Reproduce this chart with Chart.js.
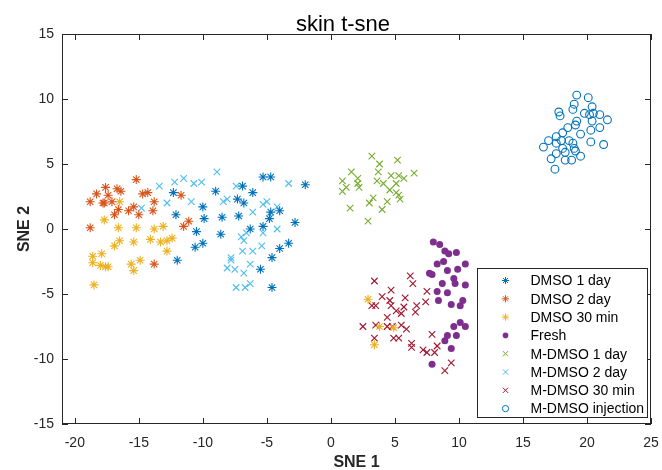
<!DOCTYPE html>
<html>
<head>
<meta charset="utf-8">
<script src="https://cdn.jsdelivr.net/npm/chart.js@4.4.1/dist/chart.umd.min.js"></script>
<style>
  html, body { margin: 0; padding: 0; background: #fff; }
  canvas { display: block; }
</style>
</head>
<body>
<canvas id="sne" width="662" height="470"></canvas>
<script>
// t-SNE embedding of skin samples, one array of [x, y] per condition
const dmso1Day = [
  [-12.3, 2.8], [-10.0, 1.7], [-12.1, 1.1], [-9.9, 0.8], [-10.5, -0.2], [-10.0, -1.1],
  [-10.6, -1.4], [-12.0, -2.4], [-5.3, 4.0], [-4.7, 4.0], [-2.0, 3.4], [-9.0, 2.9],
  [-6.9, 3.3], [-6.1, 2.8], [-7.3, 2.3], [-6.8, 2.0], [-8.5, 0.9], [-7.2, 1.0],
  [-4.7, 1.3], [-4.0, 1.4], [-4.8, 0.8], [-2.8, 0.5], [-6.3, 0.0], [-5.3, 0.2],
  [-8.6, -0.4], [-3.3, -1.1], [-4.0, -1.5], [-4.6, -2.2], [-5.5, -3.1], [-4.6, -4.5]
];
const dmso2Day = [
  [-15.2, 3.8], [-17.6, 3.2], [-16.7, 3.1], [-16.4, 2.9], [-18.3, 2.7], [-17.4, 2.6],
  [-14.7, 2.7], [-14.3, 2.8], [-18.8, 2.1], [-17.8, 2.0], [-17.7, 2.0], [-17.1, 2.1],
  [-13.8, 2.1], [-11.7, 2.6], [-15.4, 1.7], [-15.8, 1.4], [-16.6, 1.5], [-16.9, 1.1],
  [-15.0, 1.1], [-13.9, 1.4], [-11.1, 0.6], [-11.5, 0.2], [-18.8, 0.1], [-13.8, -2.7]
];
const dmso30Min = [
  [-16.5, 2.1], [-17.7, 0.7], [-16.6, 0.1], [-15.2, 0.1], [-13.8, 0.0], [-13.1, 0.2],
  [-16.5, -0.9], [-16.9, -1.3], [-15.4, -1.0], [-14.1, -0.8], [-13.3, -1.0], [-12.8, -0.9],
  [-12.4, -0.7], [-12.8, -1.7], [-17.9, -1.9], [-18.6, -2.1], [-18.6, -2.6], [-18.0, -2.8],
  [-17.6, -2.9], [-17.4, -2.9], [-14.9, -2.4], [-15.6, -2.7], [-15.4, -3.2], [-18.5, -4.3],
  [2.9, -5.4], [3.8, -7.5], [4.9, -7.6], [3.4, -8.9]
];
const fresh = [
  [8.0, -1.0], [8.5, -1.2], [8.9, -1.7], [9.2, -1.9], [9.8, -1.8], [8.8, -2.5],
  [8.3, -2.7], [10.5, -2.7], [7.7, -3.4], [7.9, -3.5], [9.1, -3.2], [9.9, -3.1],
  [9.6, -3.8], [8.7, -4.2], [9.7, -4.2], [10.5, -4.3], [8.3, -4.8], [9.1, -4.9],
  [10.3, -5.5], [8.4, -5.5], [9.4, -5.8], [10.1, -5.9], [10.1, -7.2], [10.5, -7.5],
  [9.6, -7.5], [9.1, -8.2], [9.8, -8.2], [8.9, -8.6], [9.4, -9.2], [7.9, -10.4]
];
const mDmso1Day = [
  [3.2, 5.6], [5.2, 5.3], [3.8, 5.0], [1.6, 4.4], [3.7, 4.4], [2.1, 3.9], [4.7, 4.1],
  [5.3, 4.1], [6.5, 4.3], [5.7, 3.9], [0.9, 3.7], [3.6, 3.7], [4.1, 3.5], [2.1, 3.5],
  [5.1, 3.5], [1.2, 3.2], [2.2, 3.2], [4.6, 3.0], [0.9, 2.9], [5.1, 2.8], [5.3, 2.6],
  [5.4, 2.3], [3.3, 2.4], [3.0, 2.0], [4.4, 2.1], [1.5, 1.6], [4.0, 1.5], [2.9, 0.6]
];
const mDmso2Day = [
  [-13.4, 3.3], [-12.2, 3.6], [-11.5, 3.9], [-10.7, 3.5], [-10.1, 3.6], [-12.8, 2.0],
  [-10.9, 2.1], [-14.8, 1.6], [-8.9, 4.4], [-3.3, 3.5], [-7.4, 3.3], [-8.4, 2.1],
  [-8.1, 2.3], [-5.3, 1.9], [-5.0, 2.1], [-4.2, 1.7], [-6.1, 1.3], [-4.2, 0.0],
  [-5.3, -0.3], [-6.6, -0.3], [-7.0, -0.6], [-6.8, -0.9], [-5.4, -1.3], [-6.9, -1.7],
  [-6.1, -1.7], [-7.8, -2.2], [-7.8, -2.4], [-8.1, -3.0], [-7.5, -3.1], [-6.3, -2.7],
  [-6.8, -3.4], [-7.4, -4.5], [-6.7, -4.5], [-6.3, -4.2]
];
const mDmso30Min = [
  [3.4, -4.0], [6.2, -3.6], [6.4, -4.2], [4.7, -4.7], [7.5, -4.8], [4.0, -5.2],
  [5.8, -5.3], [4.6, -5.5], [7.4, -5.6], [3.2, -5.9], [3.5, -5.9], [4.7, -5.9],
  [5.7, -6.0], [6.7, -5.9], [5.1, -6.3], [5.5, -6.5], [6.6, -6.4], [4.4, -6.8],
  [3.5, -7.4], [4.4, -7.5], [4.8, -7.5], [5.5, -7.4], [2.5, -7.5], [5.9, -7.7],
  [7.9, -8.1], [3.4, -8.4], [4.9, -8.4], [5.3, -8.4], [6.3, -8.8], [6.3, -9.1],
  [8.3, -9.0], [7.2, -9.3], [7.5, -9.5], [8.1, -9.5], [9.4, -10.3], [8.9, -10.9]
];
const mDmsoInjection = [
  [19.2, 10.3], [20.1, 10.1], [19.0, 9.6], [20.4, 9.4], [18.9, 9.2], [17.8, 9.0],
  [17.9, 8.7], [19.8, 8.9], [20.2, 8.8], [20.5, 8.9], [21.0, 8.8], [21.6, 8.4],
  [20.4, 8.3], [19.2, 8.3], [19.1, 8.0], [18.5, 7.8], [21.0, 7.8], [20.3, 7.6],
  [18.1, 7.4], [19.5, 7.3], [17.6, 7.1], [17.0, 6.8], [18.0, 6.8], [18.6, 6.8],
  [17.6, 6.6], [20.3, 6.7], [18.9, 6.6], [16.6, 6.3], [18.1, 6.2], [19.0, 6.2],
  [21.3, 6.5], [17.6, 5.8], [18.3, 5.9], [19.1, 6.0], [19.5, 5.6], [17.2, 5.4],
  [18.3, 5.3], [18.8, 5.3], [17.5, 4.6]
];

const seriesNames = ['DMSO 1 day', 'DMSO 2 day', 'DMSO 30 min', 'Fresh',
  'M-DMSO 1 day', 'M-DMSO 2 day', 'M-DMSO 30 min', 'M-DMSO injection'];
const xTicks = [-20, -15, -10, -5, 0, 5, 10, 15, 20, 25];
const yTicks = [-15, -10, -5, 0, 5, 10, 15];
const chartTitle = 'skin t-sne';
const xLabel = 'SNE 1';
const yLabel = 'SNE 2';

const FONT = '"Liberation Sans", Arial, Helvetica, sans-serif';
const INK = '#262626';

// marker per series, MATLAB style: '*', '.', 'x', 'o'
const markers = [
  { style: 'star', color: '#0072BD', r: 4.5, fill: false },
  { style: 'star', color: '#D95319', r: 4.5, fill: false },
  { style: 'star', color: '#EDB120', r: 4.5, fill: false },
  { style: 'circle', color: '#7E2F8E', r: 3.5, fill: true },
  { style: 'crossRot', color: '#77AC30', r: 4.6, fill: false },
  { style: 'crossRot', color: '#4DBEEE', r: 4.6, fill: false },
  { style: 'crossRot', color: '#A2142F', r: 4.6, fill: false },
  { style: 'circle', color: '#0072BD', r: 3.9, fill: false }
];

const allSeries = [dmso1Day, dmso2Day, dmso30Min, fresh, mDmso1Day, mDmso2Day, mDmso30Min, mDmsoInjection];

const datasets = allSeries.map((pts, i) => ({
  label: seriesNames[i],
  data: pts.map(p => ({ x: p[0], y: p[1] })),
  pointStyle: markers[i].style,
  pointRadius: markers[i].r,
  pointHoverRadius: markers[i].r,
  borderColor: markers[i].color,
  backgroundColor: markers[i].fill ? markers[i].color : 'rgba(0,0,0,0)',
  pointBorderWidth: markers[i].fill ? 0 : 1.1,
  borderWidth: 1
}));

const TICK = 6;

// axes box with inward ticks, titles and legend
const matlabAxes = {
  id: 'matlabAxes',
  afterDatasetsDraw(chart) {
    const { ctx, chartArea: a, scales: { x, y } } = chart;
    ctx.save();
    ctx.strokeStyle = INK;
    ctx.lineWidth = 1;
    ctx.beginPath();
    xTicks.forEach(v => {
      const px = Math.round(x.getPixelForValue(v)) + 0.5;
      ctx.moveTo(px, a.bottom); ctx.lineTo(px, a.bottom - TICK);
      ctx.moveTo(px, a.top); ctx.lineTo(px, a.top + TICK);
    });
    yTicks.forEach(v => {
      const py = Math.round(y.getPixelForValue(v)) + 0.5;
      ctx.moveTo(a.left, py); ctx.lineTo(a.left + TICK, py);
      ctx.moveTo(a.right, py); ctx.lineTo(a.right - TICK, py);
    });
    ctx.stroke();
    ctx.strokeRect(Math.round(a.left) + 0.5, Math.round(a.top) + 0.5,
      Math.round(a.right - a.left) - 1, Math.round(a.bottom - a.top) - 1);

    // title and axis labels
    ctx.fillStyle = '#000';
    ctx.textAlign = 'center';
    ctx.textBaseline = 'alphabetic';
    ctx.font = '22px ' + FONT;
    ctx.fillText(chartTitle, 343, 31);
    ctx.fillStyle = INK;
    ctx.textBaseline = 'middle';
    ctx.font = 'bold 16px ' + FONT;
    ctx.fillText(xLabel, (a.left + a.right) / 2, 463);
    ctx.save();
    ctx.translate(25, (a.top + a.bottom) / 2);
    ctx.rotate(-Math.PI / 2);
    ctx.fillText(yLabel, 0, 0);
    ctx.restore();

    // legend box, lower right corner
    const lw = 170, lh = 149;
    const lx = Math.round(a.right - 4 - lw) + 0.5;
    const ly = Math.round(a.bottom - 7 - lh) + 0.5;
    ctx.fillStyle = '#fff';
    ctx.fillRect(lx, ly, lw, lh);
    ctx.strokeStyle = INK;
    ctx.strokeRect(lx, ly, lw, lh);
    ctx.font = '14px ' + FONT;
    ctx.textAlign = 'left';
    seriesNames.forEach((name, i) => {
      const cy = ly + 12 + i * 18.3;
      const m = markers[i];
      ctx.strokeStyle = m.color;
      ctx.fillStyle = m.fill ? m.color : 'rgba(0,0,0,0)';
      ctx.lineWidth = 1;
      Chart.helpers.drawPoint(ctx, {
        pointStyle: m.style, radius: m.r * 0.8, rotation: 0, borderWidth: m.fill ? 0 : 1
      }, lx + 28, cy);
      ctx.fillStyle = '#000';
      ctx.fillText(name, lx + 53, cy + 1);
    });
    ctx.restore();
  }
};

new Chart(document.getElementById('sne'), {
  type: 'scatter',
  data: { datasets },
  options: {
    responsive: false,
    animation: false,
    layout: { padding: { top: 34, right: 11, left: 0, bottom: 0 } },
    plugins: {
      legend: { display: false },
      tooltip: { enabled: false }
    },
    scales: {
      x: {
        type: 'linear',
        min: -21,
        max: 25,
        afterBuildTicks: s => { s.ticks = xTicks.map(v => ({ value: v })); },
        // fixed box; end labels may overhang the plot edge
        afterFit: s => { s.height = 46; s.paddingLeft = 0; s.paddingRight = 0; },
        grid: { display: false, drawTicks: false },
        border: { display: false },
        ticks: { color: INK, font: { family: FONT, size: 14 }, padding: 11, maxRotation: 0 }
      },
      y: {
        type: 'linear',
        min: -15,
        max: 15,
        afterBuildTicks: s => { s.ticks = yTicks.map(v => ({ value: v })); },
        afterFit: s => { s.width = 62; s.paddingTop = 0; s.paddingBottom = 0; },
        grid: { display: false, drawTicks: false },
        border: { display: false },
        ticks: { color: INK, font: { family: FONT, size: 14 }, padding: 8 }
      }
    }
  },
  plugins: [matlabAxes]
});
</script>
</body>
</html>
